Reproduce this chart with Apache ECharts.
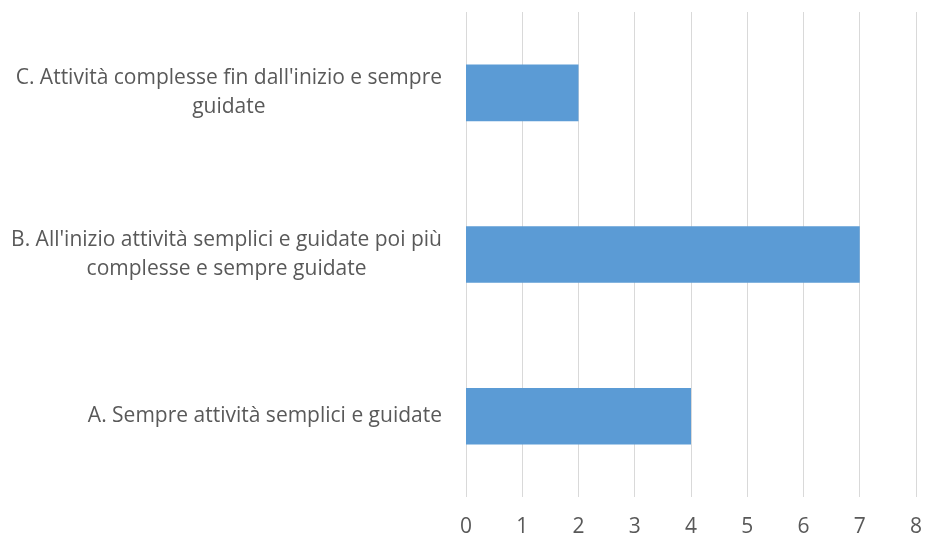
<!DOCTYPE html>
<html>
<head>
<meta charset="utf-8">
<script src="https://cdn.jsdelivr.net/npm/echarts@6/dist/echarts.min.js"></script>
<style>html,body{margin:0;padding:0;background:#fff}#c{width:925px;height:538px}</style>
</head>
<body>
<div id="c"></div>
<script>
const categories = [
  "A. Sempre attività semplici e guidate",
  "B. All'inizio attività semplici e guidate poi più complesse e sempre guidate",
  "C. Attività complesse fin dall'inizio e sempre guidate"
];
const values = [4, 7, 2];
const xTicks = [0, 1, 2, 3, 4, 5, 6, 7, 8];

const FONT = '"Open Sans"';
const FS = 21;
const ctx = document.createElement('canvas').getContext('2d');
ctx.font = FS + 'px ' + FONT;
function wrap(text, maxW) {
  const words = text.split(' ');
  const lines = [];
  let cur = '';
  for (const w of words) {
    const t = cur ? cur + ' ' + w : w;
    if (cur && ctx.measureText(t).width > maxW) { lines.push(cur); cur = w; }
    else cur = t;
  }
  if (cur) lines.push(cur);
  return lines;
}

const chart = echarts.init(document.getElementById('c'));
chart.setOption({
  animation: false,
  grid: { left: 466, right: 9, top: 12, bottom: 41, containLabel: false },
  xAxis: {
    type: 'value', min: xTicks[0], max: xTicks[xTicks.length - 1], interval: 1,
    axisLine: { show: false }, axisTick: { show: false },
    splitLine: { show: true, lineStyle: { color: '#d9d9d9', width: 1 } },
    axisLabel: { color: '#595959', fontFamily: 'Open Sans', fontSize: FS, margin: 20 }
  },
  yAxis: {
    type: 'category', data: categories,
    axisLine: { show: false }, axisTick: { show: false },
    axisLabel: {
      margin: 24, align: 'right',
      formatter: v => wrap(v, 450).map(l => '{a|' + l + '}').join('\n'),
      rich: { a: { align: 'center', color: '#595959', fontFamily: 'Open Sans', fontSize: FS, lineHeight: 29 } }
    }
  },
  series: [{
    type: 'bar', data: values, barCategoryGap: '65%',
    itemStyle: { color: '#5b9bd5' }
  }]
});
</script>
</body>
</html>
